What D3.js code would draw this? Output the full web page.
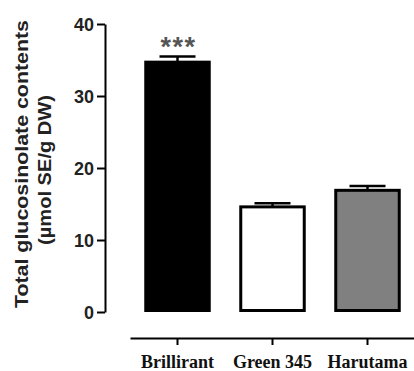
<!DOCTYPE html>
<html>
<head>
<meta charset="utf-8">
<script src="https://cdn.jsdelivr.net/npm/d3@7"></script>
<style>
  body { margin: 0; background: #fff; }
  svg text { font-family: Arial, "Liberation Sans", sans-serif; }
</style>
</head>
<body>
<script>
var cultivars = ["Brillirant", "Green 345", "Harutama"];
var means = [34.7, 14.6, 16.9];
var errors = [0.8, 0.5, 0.6];
var fills = ["#000000", "#ffffff", "#808080"];
var marks = ["***", "", ""];
var yTicks = [0, 10, 20, 30, 40];

var width = 414, height = 371;

var svg = d3.select("body")
  .append("svg")
  .attr("width", width)
  .attr("height", height);

var y = d3.scaleLinear()
  .domain([0, 40])
  .range([312, 24]);

var x = d3.scaleBand()
  .domain(cultivars)
  .range([130, 415])
  .paddingInner(0.3)
  .paddingOuter(0.15);

// y axis
var yAxis = svg.append("g")
  .attr("transform", "translate(105,0)")
  .call(d3.axisLeft(y).tickValues(yTicks).tickSize(8).tickSizeOuter(0));
yAxis.select(".domain").attr("stroke-width", 2);
yAxis.selectAll(".tick line").attr("stroke-width", 2);
yAxis.selectAll(".tick text")
  .attr("font-size", 18)
  .attr("font-weight", "bold")
  .attr("fill", "#222")
  .attr("x", -11)
  .attr("dy", "0.34em");

// x axis, drawn lower than the bars
var xAxis = svg.append("g")
  .attr("transform", "translate(0,338)")
  .call(d3.axisBottom(x).tickSize(7).tickSizeOuter(0));
xAxis.select(".domain").attr("stroke-width", 2);
xAxis.selectAll(".tick line").attr("stroke-width", 2);
xAxis.selectAll(".tick text")
  .attr("y", 30)
  .attr("dy", 0)
  .attr("font-size", 18)
  .attr("font-weight", "bold")
  .style("font-family", "'Liberation Serif', 'DejaVu Serif', serif")
  .attr("fill", "#111");

// error bars
var eb = svg.append("g").selectAll("g")
  .data(cultivars)
  .enter().append("g");
eb.append("line")
  .attr("x1", function(d) { return x(d) + x.bandwidth() / 2; })
  .attr("x2", function(d) { return x(d) + x.bandwidth() / 2; })
  .attr("y1", function(d, i) { return y(means[i]); })
  .attr("y2", function(d, i) { return y(means[i] + errors[i]); })
  .attr("stroke", "#000")
  .attr("stroke-width", 2.5);
eb.append("line")
  .attr("x1", function(d) { return x(d) + x.bandwidth() / 2 - 18; })
  .attr("x2", function(d) { return x(d) + x.bandwidth() / 2 + 18; })
  .attr("y1", function(d, i) { return y(means[i] + errors[i]); })
  .attr("y2", function(d, i) { return y(means[i] + errors[i]); })
  .attr("stroke", "#000")
  .attr("stroke-width", 2.5);

// bars
svg.append("g").selectAll("rect")
  .data(cultivars)
  .enter().append("rect")
  .attr("x", function(d) { return x(d) + 1.5; })
  .attr("width", x.bandwidth() - 3)
  .attr("y", function(d, i) { return y(means[i]); })
  .attr("height", function(d, i) { return y(0) - y(means[i]) - 1.5; })
  .attr("fill", function(d, i) { return fills[i]; })
  .attr("stroke", "#000")
  .attr("stroke-width", 3);

// significance marks
svg.append("g").selectAll("text")
  .data(cultivars)
  .enter().append("text")
  .attr("x", function(d) { return x(d) + x.bandwidth() / 2 + 1; })
  .attr("y", function(d, i) { return y(means[i] + errors[i]); })
  .attr("text-anchor", "middle")
  .attr("font-size", 27)
  .attr("font-weight", "bold")
  .attr("letter-spacing", 1.5)
  .attr("fill", "#555")
  .text(function(d, i) { return marks[i]; });

// y axis title
var title = svg.append("g")
  .attr("transform", "rotate(-90)")
  .attr("text-anchor", "middle")
  .attr("font-size", 18)
  .attr("font-weight", "bold")
  .attr("fill", "#222");
title.append("text")
  .attr("x", -164).attr("y", 28)
  .attr("textLength", 288).attr("lengthAdjust", "spacingAndGlyphs")
  .text("Total glucosinolate contents");
title.append("text")
  .attr("x", -170).attr("y", 51)
  .attr("textLength", 150).attr("lengthAdjust", "spacingAndGlyphs")
  .text("(µmol SE/g DW)");
</script>
</body>
</html>
